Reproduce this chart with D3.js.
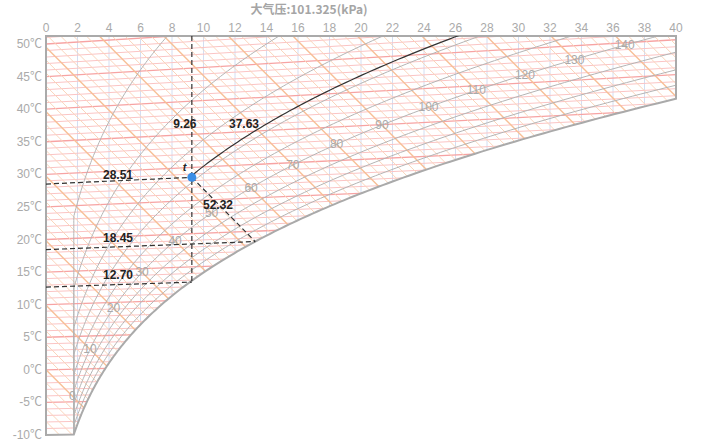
<!DOCTYPE html>
<html>
<head>
<meta charset="utf-8">
<script src="https://cdn.jsdelivr.net/npm/d3@7"></script>
<style>
  body { margin: 0; background: #fff; }
  svg text { font-family: Arial, "Liberation Sans", "Noto Sans CJK SC", sans-serif; }
</style>
</head>
<body>
<svg id="chart"></svg>
<script>
const w = 720;
const h = 445;
const pressure = 101.325;

// ticks
const dTicks = d3.range(0, 41, 2);                 // humidity ratio g/kg
const tTicks = [-10, -5, 0, 5, 10, 15, 20, 25, 30, 35, 40, 45, 50];
const rhCurves = [0.1, 0.2, 0.3, 0.4, 0.5, 0.6, 0.7, 0.8, 0.9];
const hLabels = [0, 10, 20, 30, 40, 50, 60, 70, 80, 90, 100, 110, 120, 130, 140];

// state point
const pointD = 9.26;
const pointT = 28.51;
const pointRH = 37.63;
const pointH = 52.32;
const wetBulb = 18.45;
const dewPoint = 12.70;

// psychrometric relations
const psat = (t) => 0.61094 * Math.exp(17.625 * t / (t + 243.04));
const dOf = (t, rh) => { const p = rh * psat(t); return 622 * p / (pressure - p); };
const hOf = (t, d) => 1.01 * t + 0.001 * d * (2501 + 1.84 * t);

const xScale = d3.scaleLinear().domain([0, 40]).range([46, 676]);
const yScale = d3.scaleLinear().domain([hOf(-10, 0), hOf(50, 0)]).range([435, 44]);
// skew so isenthalps run at 45 degrees
const skew = (xScale(1) - xScale(0)) / (yScale(0) - yScale(1));
const px = (t, d) => [xScale(d), yScale(hOf(t, d) - skew * d)];
const topY = 36;

function tSatAt(d) {
  let lo = -20, hi = 80;
  for (let i = 0; i < 60; i++) {
    const m = (lo + hi) / 2;
    if (dOf(m, 1) < d) lo = m; else hi = m;
  }
  return (lo + hi) / 2;
}

const svg = d3.select('#chart').attr('width', w).attr('height', h);

// chart outline
const tEnd = tSatAt(40);
const dMin = dOf(-10, 1);
const satPts = d3.range(tEnd, -10, -0.25).concat([-10]).map((t) => px(t, dOf(t, 1)));
const outline = [[xScale(0), topY], [xScale(40), topY]].concat(satPts, [px(-10, 0)]);

svg.append('clipPath').attr('id', 'area')
  .append('path').attr('d', 'M' + outline.join('L') + 'Z');

const grid = svg.append('g').attr('clip-path', 'url(#area)');

// humidity ratio verticals
grid.selectAll('line.dline')
  .data(dTicks)
  .enter()
  .append('line')
  .attr('x1', (d) => xScale(d)).attr('x2', (d) => xScale(d))
  .attr('y1', topY).attr('y2', 440)
  .attr('stroke', '#d3def2').attr('stroke-width', 1);

// isotherms every 1 C
grid.selectAll('line.iso')
  .data(d3.range(-10, 56, 1))
  .enter()
  .append('line')
  .attr('x1', (t) => px(t, 0)[0]).attr('y1', (t) => px(t, 0)[1])
  .attr('x2', (t) => px(t, 40)[0]).attr('y2', (t) => px(t, 40)[1])
  .attr('stroke', (t) => t % 5 == 0 ? '#f7a3a3' : '#fbc4c4')
  .attr('stroke-width', (t) => t % 5 == 0 ? 1.3 : 1);

// isenthalps
grid.selectAll('line.enth')
  .data(d3.range(-12, 200, 2))
  .enter()
  .append('line')
  .attr('x1', xScale(0)).attr('y1', (v) => yScale(v))
  .attr('x2', xScale(40)).attr('y2', (v) => yScale(v - skew * 40))
  .attr('stroke', (v) => v % 10 == 0 ? '#f7bf96' : '#fad5bb')
  .attr('stroke-width', (v) => v % 10 == 0 ? 1.4 : 1);

// relative humidity curves (held on the chart's left corner at low temperature)
const line = d3.line();
grid.selectAll('path.rh')
  .data(rhCurves)
  .enter()
  .append('path')
  .attr('d', (rh) => line(d3.range(-10, 60.01, 0.25).map((t) => px(t, Math.max(dOf(t, rh), dMin)))))
  .attr('fill', 'none').attr('stroke', '#b4b4b4').attr('stroke-width', 1);

// enthalpy labels along 60% curve
function tOnRH(hv, rh) {
  let lo = -20, hi = 70;
  for (let i = 0; i < 60; i++) {
    const m = (lo + hi) / 2;
    if (hOf(m, dOf(m, rh)) < hv) lo = m; else hi = m;
  }
  return (lo + hi) / 2;
}
svg.append('g').selectAll('text')
  .data(hLabels)
  .enter()
  .append('text')
  .attr('x', (v) => { const t = tOnRH(v, 0.6); return px(t, dOf(t, 0.6))[0]; })
  .attr('y', (v) => { const t = tOnRH(v, 0.6); return px(t, dOf(t, 0.6))[1] + 4; })
  .attr('text-anchor', 'middle')
  .attr('font-size', 12)
  .attr('fill', '#aaa')
  .text((v) => v);

// outline
svg.append('path')
  .attr('d', 'M' + outline.join('L') + 'Z')
  .attr('fill', 'none').attr('stroke', '#aaa').attr('stroke-width', 2);

// axes labels
svg.append('g').selectAll('text')
  .data(dTicks)
  .enter()
  .append('text')
  .attr('x', (d) => xScale(d)).attr('y', 32)
  .attr('text-anchor', 'middle')
  .attr('font-size', 12).attr('fill', '#aaa')
  .text((d) => d);

svg.append('g').selectAll('text')
  .data(tTicks)
  .enter()
  .append('text')
  .attr('x', 42).attr('y', (t) => px(t, 0)[1] + 4)
  .attr('text-anchor', 'end')
  .attr('font-size', 12).attr('fill', '#aaa')
  .text((t) => t + '℃');

svg.append('text')
  .attr('x', 309).attr('y', 14)
  .attr('text-anchor', 'middle')
  .attr('font-size', 12).attr('font-weight', 'bold').attr('fill', '#a5a5a5')
  .style('font-family', '"Noto Sans CJK SC", Arial, sans-serif')
  .text('大气压:' + pressure + '(kPa)');

// state point lines
const marks = svg.append('g').attr('clip-path', 'url(#area)');
const dWet = dOf(wetBulb, 1);
const dashed = [
  [[xScale(pointD), topY], px(dewPoint, pointD)],
  [px(pointT, 0), px(pointT, pointD)],
  [px(pointT, pointD), px(wetBulb, dWet)],
  [px(wetBulb, 0), px(wetBulb, dWet)],
  [px(dewPoint, 0), px(dewPoint, pointD)]
];
svg.append('g').selectAll('path')
  .data(dashed)
  .enter()
  .append('path')
  .attr('d', (p) => line(p))
  .attr('fill', 'none').attr('stroke', '#333')
  .attr('stroke-width', 1.2).attr('stroke-dasharray', '5,3');

marks.append('path')
  .attr('d', line(d3.range(pointT, 60, 0.25).map((t) => px(t, dOf(t, pointRH / 100)))))
  .attr('fill', 'none').attr('stroke', '#333').attr('stroke-width', 1.2);

const p0 = px(pointT, pointD);
svg.append('circle')
  .attr('cx', p0[0]).attr('cy', p0[1]).attr('r', 4.5)
  .attr('fill', '#3a8ee6');

const labels = [
  [pointD.toFixed(2), xScale(pointD) - 7, 128],
  [pointRH.toFixed(2), 244, 128],
  [pointT.toFixed(2), 118, px(pointT, 4.6)[1] - 2],
  [pointH.toFixed(2), 218, 209],
  [wetBulb.toFixed(2), 118, px(wetBulb, 4.6)[1] - 5],
  [dewPoint.toFixed(2), 118, px(dewPoint, 4.6)[1] - 6]
];
svg.append('g').selectAll('text')
  .data(labels)
  .enter()
  .append('text')
  .attr('x', (l) => l[1]).attr('y', (l) => l[2])
  .attr('text-anchor', 'middle')
  .attr('font-size', 12).attr('font-weight', 'bold').attr('fill', '#222')
  .text((l) => l[0]);

svg.append('text')
  .attr('x', p0[0] - 9).attr('y', p0[1] - 6)
  .attr('font-size', 11).attr('font-weight', 'bold').attr('font-style', 'italic')
  .attr('fill', '#222')
  .text('t');
</script>
</body>
</html>
